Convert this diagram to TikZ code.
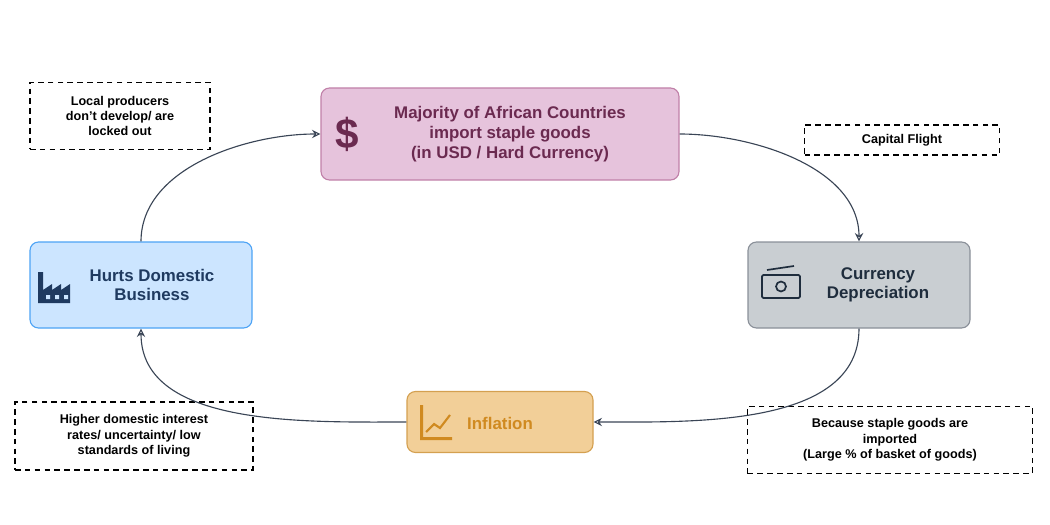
\documentclass[tikz,border=0pt]{standalone}
\usepackage{fontspec}
\setmainfont{Liberation Sans}
\usetikzlibrary{arrows.meta}
\definecolor{pinkfill}{HTML}{E6C3DC}\definecolor{pinkline}{HTML}{C080A8}\definecolor{pinktext}{HTML}{6B2A50}
\definecolor{grayfill}{HTML}{C9CED2}\definecolor{grayline}{HTML}{8A9099}\definecolor{graytext}{HTML}{1F2D3D}
\definecolor{orfill}{HTML}{F2CF98}\definecolor{orline}{HTML}{D4A050}\definecolor{ortext}{HTML}{D08A20}
\definecolor{blfill}{HTML}{CCE5FF}\definecolor{blline}{HTML}{4DA3F5}\definecolor{bltext}{HTML}{1F3A60}
\definecolor{arrowcol}{HTML}{3A4556}
\tikzset{
  stage/.style={draw,rounded corners=6pt,line width=0.8pt,font=\bfseries\large,align=center,inner sep=0pt},
  note/.style={draw,dashed,line width=1pt,dash pattern=on 4pt off 3pt,font=\bfseries\small,align=center,inner sep=0pt},
  flow/.style={->,>={Stealth[open,length=6pt,width=6pt]},arrowcol,line width=0.8pt}
}
\begin{document}
\begin{tikzpicture}[x=0.025cm,y=-0.025cm]
\useasboundingbox (0,0) rectangle (1050,525);
% stages
\node[stage,fill=pinkfill,draw=pinkline,text=pinktext,minimum width=358*0.025cm,minimum height=92*0.025cm] (imp) at (500,134) {};
\node[pinktext,font=\bfseries\large,align=center] (imptext) at (510,134) {Majority of African Countries\\import staple goods\\(in USD / Hard Currency)};
\node[pinktext,font=\bfseries\fontsize{30}{30}\selectfont] (dollar) at (347,134) {\$};
\node[stage,fill=grayfill,draw=grayline,minimum width=222*0.025cm,minimum height=86*0.025cm] (dep) at (859,285) {};
\node[graytext,font=\bfseries\large,align=center] (deptext) at (878,285) {Currency\\Depreciation};
\node[stage,fill=orfill,draw=orline,minimum width=186*0.025cm,minimum height=61*0.025cm] (inf) at (500,422) {};
\node[ortext,font=\bfseries\large] (inftext) at (500,423) {Inflation};
\node[stage,fill=blfill,draw=blline,minimum width=222*0.025cm,minimum height=86*0.025cm] (hurt) at (141,285) {};
\node[bltext,font=\bfseries\large,align=center] (hurttext) at (152,285) {Hurts Domestic\\Business};
% icons
\draw[graytext,line width=1.2pt,rounded corners=1pt] (762,275) rectangle (800,298);
\draw[graytext,line width=1.2pt] (767,270) -- (794,266);
\draw[graytext,line width=1.2pt] (781,286.5) circle (5);
\fill[ortext] (420,405) rectangle (423,440) (420,437) rectangle (452,440);
\draw[ortext,line width=1.5pt] (426,432) -- (434,424) -- (440,428) -- (450,415);
\fill[bltext] (38,303) -- (38,272) -- (43,272) -- (43,290) -- (52,284) -- (52,290) -- (61,284) -- (61,290) -- (70,284) -- (70,303) -- cycle;
\fill[blfill] (46,295) rectangle (50,299) (55,295) rectangle (59,299) (64,295) rectangle (68,299);
% notes
\node[note,minimum width=180*0.025cm,minimum height=67*0.025cm] (local) at (120,116) {Local producers\\don’t develop/ are\\locked out};
\node[note,minimum width=195*0.025cm,minimum height=30*0.025cm] (flight) at (902,140) {Capital Flight};
\node[note,minimum width=238*0.025cm,minimum height=68*0.025cm] (rates) at (134,436) {Higher domestic interest\\rates/ uncertainty/ low\\standards of living};
\node[note,minimum width=285*0.025cm,minimum height=67*0.025cm] (basket) at (890,440) {Because staple goods are\\imported\\(Large \% of basket of goods)};
% cycle
\draw[flow] (imp.east) to[out=0,in=90,looseness=0.9] (dep.north);
\draw[flow] (dep.south) to[out=-90,in=0,looseness=0.9] (inf.east);
\draw[flow] (inf.west) to[out=180,in=-90,looseness=0.9] (hurt.south);
\draw[flow] (hurt.north) to[out=90,in=180,looseness=0.9] (imp.west);
\end{tikzpicture}
\end{document}
